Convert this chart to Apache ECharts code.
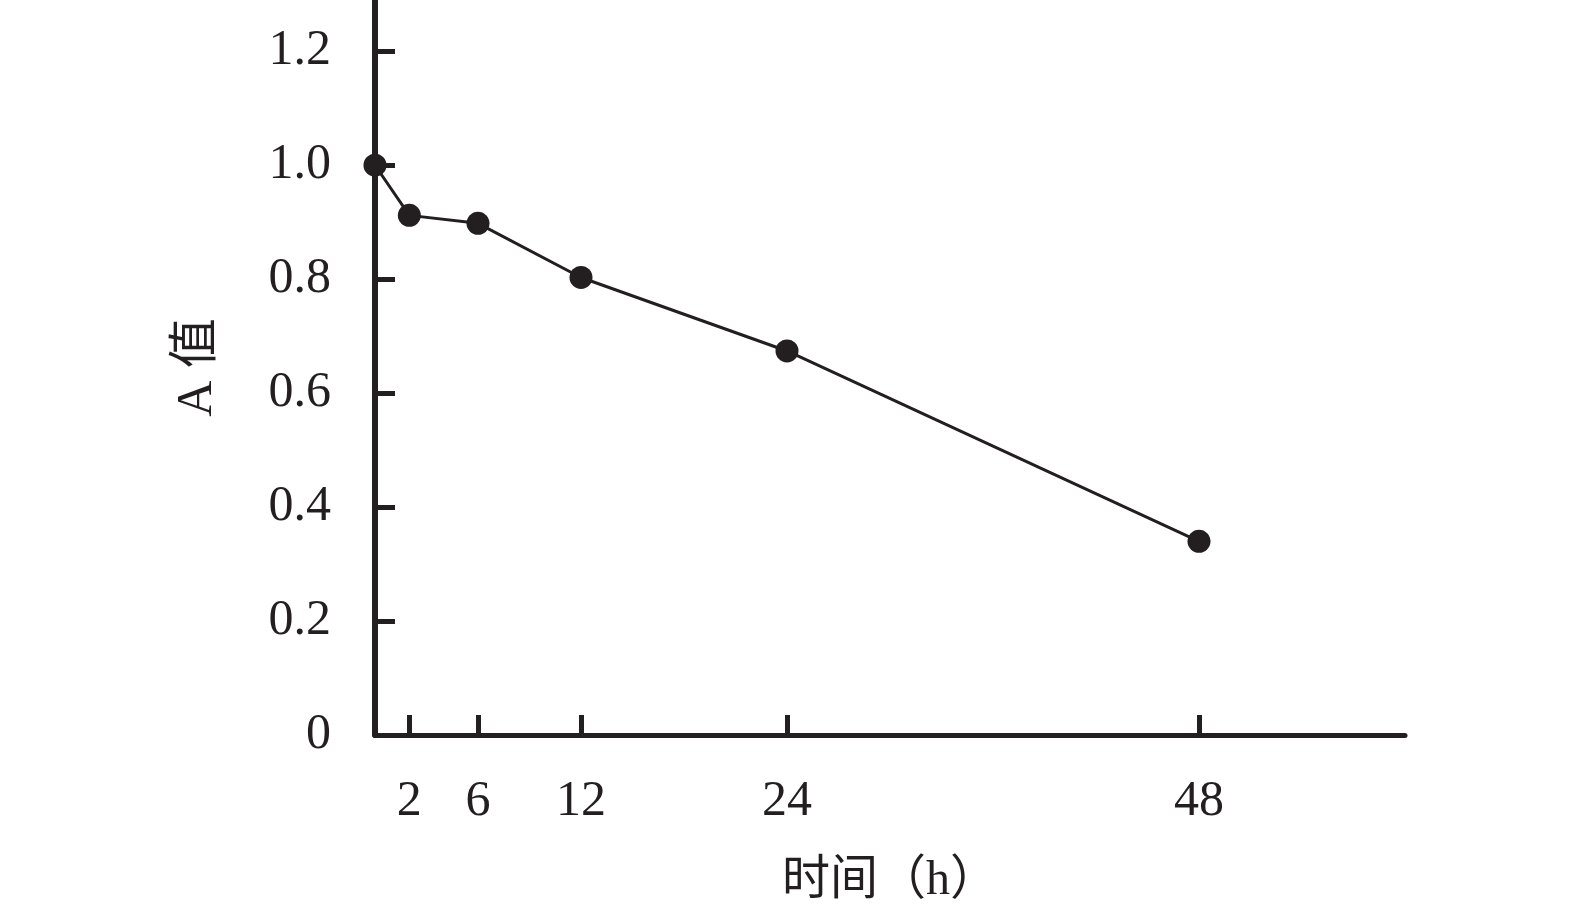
<!DOCTYPE html>
<html><head><meta charset="utf-8">
<script src="https://cdn.jsdelivr.net/npm/echarts@6/dist/echarts.min.js"></script>
<style>html,body{margin:0;padding:0;background:#fff}#c{width:1575px;height:920px}</style>
</head><body><div id="c"></div>
<script>
const hours = [0, 2, 6, 12, 24, 48];
const aValues = [1.0, 0.912, 0.898, 0.803, 0.674, 0.340];
const xTicks = [2, 6, 12, 24, 48];
const yTicks = [0, 0.2, 0.4, 0.6, 0.8, 1.0, 1.2];
const xName = '时间（h）';
const yName = 'A 值';

const ink = '#231f20';
const font = '"Liberation Serif", "Times New Roman", "Noto Sans CJK SC", serif';
const chart = echarts.init(document.getElementById('c'));
chart.setOption({
  backgroundColor: '#fff',
  animation: false,
  grid: { left: 375, right: 170, top: 0, bottom: 185 },
  xAxis: {
    type: 'value', min: 0, max: 60,
    name: xName, nameLocation: 'middle', nameGap: 122,
    nameTextStyle: { color: ink, fontSize: 48, fontFamily: font },
    axisLine: { lineStyle: { color: ink, width: 5 } },
    axisTick: { customValues: xTicks, inside: true, length: 20, lineStyle: { color: ink, width: 5 } },
    axisLabel: { customValues: xTicks, color: ink, fontSize: 50, fontFamily: font, margin: 42 },
    splitLine: { show: false }
  },
  yAxis: {
    type: 'value', min: 0, max: 1.29,
    name: yName, nameLocation: 'middle', nameGap: 152,
    nameTextStyle: { color: ink, fontSize: 50, fontFamily: font },
    axisLine: { lineStyle: { color: ink, width: 6 } },
    axisTick: { customValues: yTicks, inside: true, length: 20, lineStyle: { color: ink, width: 5 } },
    axisLabel: { customValues: yTicks, color: ink, fontSize: 50, fontFamily: font, margin: 44,
      formatter: v => v === 0 ? '0' : v.toFixed(1) },
    splitLine: { show: false }
  },
  series: [{
    type: 'line',
    data: hours.map((h, i) => [h, aValues[i]]),
    clip: false,
    symbol: 'circle', symbolSize: 23,
    lineStyle: { color: ink, width: 3 },
    itemStyle: { color: ink },
    z: 5
  }]
});
</script></body></html>
